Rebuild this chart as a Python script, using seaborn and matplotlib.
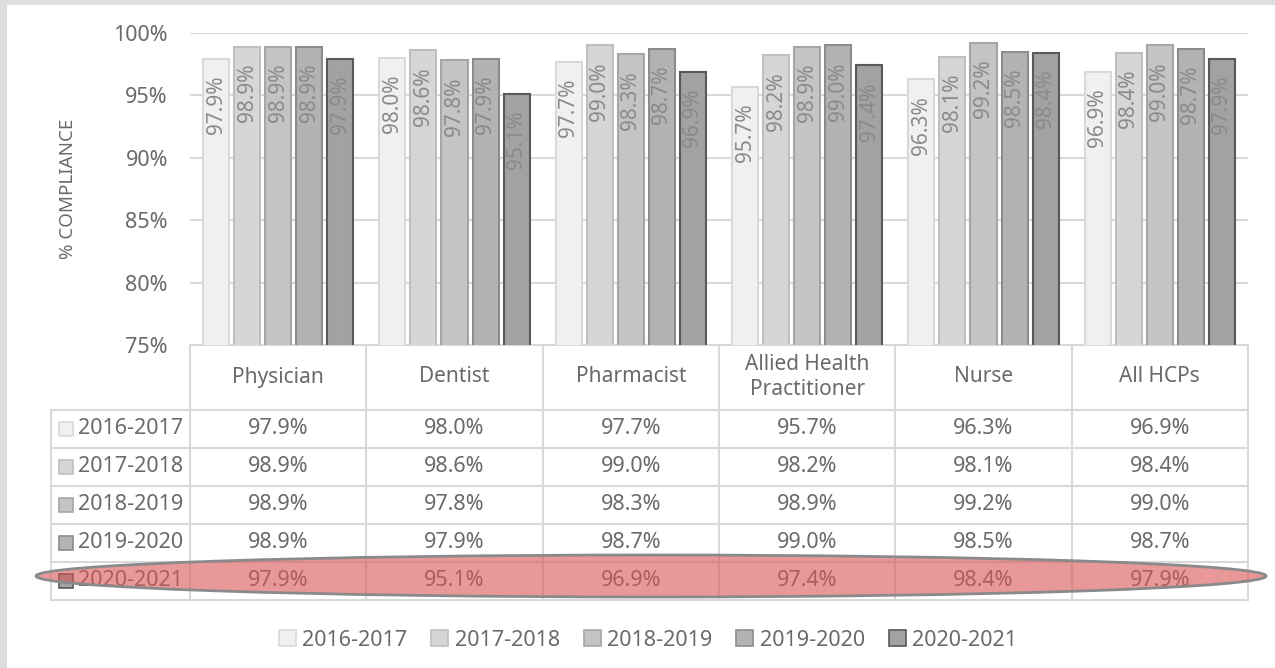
import matplotlib
matplotlib.use("Agg")
import matplotlib.pyplot as plt
import seaborn as sns
import pandas as pd
from matplotlib.lines import Line2D
from matplotlib.patches import Rectangle, Ellipse, Patch

categories = ["Physician", "Dentist", "Pharmacist", "Allied Health\nPractitioner", "Nurse", "All HCPs"]
years = ["2016-2017", "2017-2018", "2018-2019", "2019-2020", "2020-2021"]
v2016 = [97.9, 98.0, 97.7, 95.7, 96.3, 96.9]
v2017 = [98.9, 98.6, 99.0, 98.2, 98.1, 98.4]
v2018 = [98.9, 97.8, 98.3, 98.9, 99.2, 99.0]
v2019 = [98.9, 97.9, 98.7, 99.0, 98.5, 98.7]
v2020 = [97.9, 95.1, 96.9, 97.4, 98.4, 97.9]
series = [v2016, v2017, v2018, v2019, v2020]

fills = ["#f0f0f0", "#d6d6d6", "#c4c4c4", "#b3b3b3", "#a2a2a2"]
edges = ["#d9d9d9", "#bfbfbf", "#a6a6a6", "#8c8c8c", "#595959"]

rows = []
for y, vals in zip(years, series):
    for c, v in zip(categories, vals):
        rows.append({"cat": c, "year": y, "val": v})
df = pd.DataFrame(rows)

sns.set_theme(style="white")
plt.rcParams["font.family"] = ["Noto Sans", "DejaVu Sans"]
TXT = "#6a6a6a"
FS = 15

W, H = 1275, 668
fig = plt.figure(figsize=(W / 100, H / 100), dpi=100)
fig.patch.set_facecolor("#dedede")
fig.add_artist(Rectangle((7 / W, 0), (W - 7) / W, (H - 5) / H, transform=fig.transFigure,
                         facecolor="white", edgecolor="none", zorder=0))

def fx(x):
    return x / W

def fy(y):
    return 1 - y / H

L, R, T, B = 190, 1248, 33, 345
ax = fig.add_axes([fx(L), fy(B), (R - L) / W, (B - T) / H])
ax.set_facecolor("none")
sns.barplot(data=df, x="cat", y="val", hue="year", palette=fills, width=0.88, gap=0.16,
            ax=ax, legend=False, zorder=3, saturation=1)
for cont, ec in zip(ax.containers, edges):
    for bar in cont:
        bar.set_edgecolor(ec)
        bar.set_linewidth(1.5)
        h = bar.get_height()
        ax.annotate(f"{h:.1f}%", (bar.get_x() + bar.get_width() / 2, h),
                    xytext=(0, -12), textcoords="offset points", rotation=90,
                    ha="center", va="top", fontsize=FS, color="#8a8a8a", zorder=4)

ax.set_ylim(75, 100)
ax.set_xlim(-0.5, 5.5)
ax.set_yticks([75, 80, 85, 90, 95, 100])
ax.set_yticklabels([f"{t}%" for t in [75, 80, 85, 90, 95, 100]], fontsize=FS + 0.5, color=TXT)
ax.yaxis.grid(True, color="#d9d9d9", linewidth=1.5, zorder=0)
ax.set_axisbelow(True)
ax.set_xticks([])
ax.set_xlabel("")
ax.set_ylabel("")
for s in ["top", "right", "left"]:
    ax.spines[s].set_visible(False)
ax.spines["bottom"].set_color("#d9d9d9")
ax.spines["bottom"].set_linewidth(1.5)
ax.tick_params(axis="y", length=0, pad=16)
fig.text(fx(68), fy(189), "% COMPLIANCE", rotation=90, ha="center", va="center",
         fontsize=13.5, color=TXT)

# data table
gc = "#d9d9d9"
colx = [190 + i * (R - L) / 6 for i in range(7)]
rowy = [410, 448, 486, 524, 562, 600]

def line(x0, y0, x1, y1):
    fig.add_artist(Line2D([fx(x0), fx(x1)], [fy(y0), fy(y1)], transform=fig.transFigure,
                          color=gc, linewidth=1.5, zorder=2))

for x in colx:
    line(x, B, x, 600)
line(51, 410, 51, 600)
for y in rowy:
    line(51, y, R, y)

for i, c in enumerate(categories):
    cx = (colx[i] + colx[i + 1]) / 2
    fig.text(fx(cx), fy(377), c, ha="center", va="center", fontsize=FS, color=TXT,
             linespacing=1.25)

for r, (y, vals) in enumerate(zip(years, series)):
    cy = (rowy[r] + rowy[r + 1]) / 2
    fig.add_artist(Rectangle((fx(59), fy(cy + 7)), 14 / W, 14 / H, transform=fig.transFigure,
                             facecolor=fills[r], edgecolor=edges[r], linewidth=1.2, zorder=3))
    fig.text(fx(78), fy(cy), y, ha="left", va="center", fontsize=FS + 0.5, color=TXT)
    for i, v in enumerate(vals):
        cx = (colx[i] + colx[i + 1]) / 2
        fig.text(fx(cx), fy(cy), f"{v:.1f}%", ha="center", va="center", fontsize=FS + 0.5, color=TXT)

# highlight ellipse
fig.add_artist(Ellipse((fx(651), fy(576)), 1230 / W, 42 / H, transform=fig.transFigure,
                       facecolor=(0.85, 0.33, 0.33, 0.6), edgecolor="#8a8a8a", linewidth=2,
                       zorder=10))

handles = [Patch(facecolor=f, edgecolor=e, linewidth=1.2) for f, e in zip(fills, edges)]
fig.legend(handles, years, loc="center", bbox_to_anchor=(fx(648), fy(640)), ncol=5,
           frameon=False, fontsize=FS + 0.5, handlelength=0.8, handleheight=0.8,
           handletextpad=0.3, columnspacing=1.1, labelcolor=TXT)

fig.savefig("out.png", dpi=100, facecolor=fig.get_facecolor())
